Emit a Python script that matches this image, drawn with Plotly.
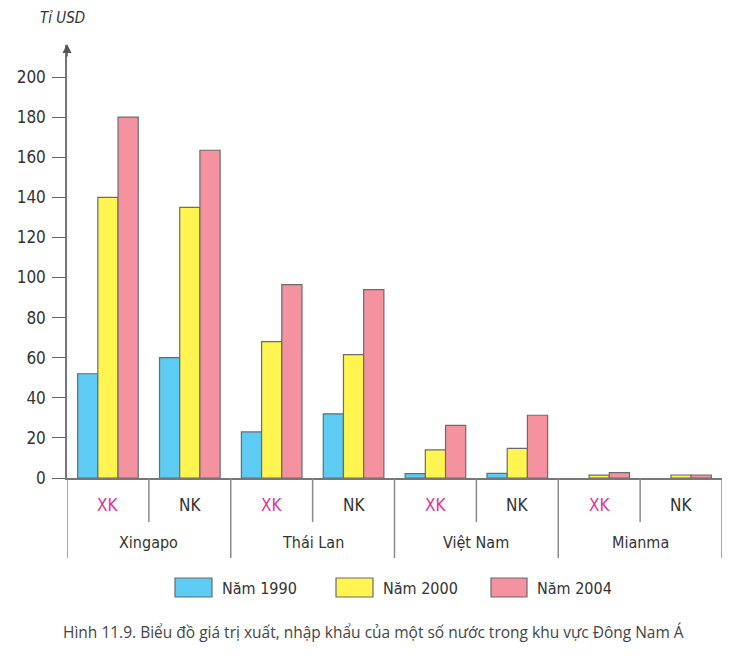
import plotly.graph_objects as go

# ---- data ----
countries = ["Xingapo", "Thái Lan", "Việt Nam", "Mianma"]
flows = ["XK", "NK"]
years = ["Năm 1990", "Năm 2000", "Năm 2004"]
v1990 = [52, 60, 23, 32, 2.2, 2.3, None, None]
v2000 = [140, 135, 68, 61.5, 14, 14.8, 1.4, 1.5]
v2004 = [180, 163.5, 96.5, 94, 26.3, 31.3, 2.7, 1.5]
y_ticks = [0, 20, 40, 60, 80, 100, 120, 140, 160, 180, 200]
title_y = "Tỉ USD"
caption = "Hình 11.9. Biểu đồ giá trị xuất, nhập khẩu của một số nước trong khu vực Đông Nam Á"

colors = ["#5ECBF2", "#FFF450", "#F592A0"]
series = [v1990, v2000, v2004]

W, H = 751, 662
ML, MR, MT, MB = 67, 29, 45, 184
PW, PH = W - ML - MR, H - MT - MB
YMAX = 216

def px(x):
    return (x - ML) / PW

def py(y):
    return (H - MB - y) / PH

FONT = "DejaVu Sans Condensed, Liberation Sans Narrow, Liberation Sans, Arial"
n_sub = len(countries) * len(flows)
xpos = list(range(n_sub))

fig = go.Figure()
for name, vals, col in zip(years, series, colors):
    fig.add_trace(go.Bar(
        x=xpos, y=vals, name=name,
        marker=dict(color=col, line=dict(color="#6b6b6b", width=1.2)),
        showlegend=False,
    ))

shapes = []
annotations = []
# separators and labels under axis
for g, c in enumerate(countries):
    for f, fl in enumerate(flows):
        i = g * len(flows) + f
        annotations.append(dict(
            x=i, y=py(505), xref="x", yref="paper", text=fl, showarrow=False,
            font=dict(family=FONT, size=17, color="#E0359C" if fl == "XK" else "#333333"),
            xanchor="center", yanchor="middle"))
    annotations.append(dict(
        x=g * 2 + 0.5, y=py(542), xref="x", yref="paper", text=c, showarrow=False,
        font=dict(family=FONT, size=16, color="#333333"), xanchor="center", yanchor="middle"))
    shapes.append(dict(type="line", xref="x", yref="paper",
                       x0=g * 2 + 0.5, x1=g * 2 + 0.5, y0=0, y1=py(522),
                       line=dict(color="#8a8a8a", width=1.5)))
for k in range(len(countries) + 1):
    xx = k * 2 - 0.5
    shapes.append(dict(type="line", xref="x", yref="paper",
                       x0=xx, x1=xx, y0=0, y1=py(558),
                       line=dict(color="#8a8a8a", width=1.5)))

# custom legend
leg_boxes = [(175, 212), (336, 373), (491, 527)]
for (x0, x1), name, col in zip(leg_boxes, years, colors):
    shapes.append(dict(type="rect", xref="paper", yref="paper",
                       x0=px(x0), x1=px(x1), y0=py(578), y1=py(597),
                       fillcolor=col, line=dict(color="#6b6b6b", width=1.2)))
    annotations.append(dict(x=px(x1 + 8), y=py(588), xref="paper", yref="paper",
                            text=name, showarrow=False, xanchor="left", yanchor="middle",
                            font=dict(family=FONT, size=16, color="#333333")))

annotations.append(dict(x=px(373), y=py(632), xref="paper", yref="paper", text=caption,
                        showarrow=False, xanchor="center", yanchor="middle",
                        font=dict(family="Open Sans, Noto Sans, sans-serif", size=15.5, color="#444444")))
annotations.append(dict(x=px(62), y=py(18), xref="paper", yref="paper", text="<i>" + title_y + "</i>",
                        showarrow=False, xanchor="center", yanchor="middle",
                        font=dict(family=FONT, size=15, color="#333333")))
# axis arrow
annotations.append(dict(x=px(ML), y=py(44), xref="paper", yref="paper", ax=0, ay=14,
                        text="", showarrow=True, arrowhead=2, arrowsize=1.2, arrowwidth=1.5,
                        arrowcolor="#555555"))

fig.update_layout(
    width=W, height=H,
    margin=dict(l=ML, r=MR, t=MT, b=MB),
    paper_bgcolor="white", plot_bgcolor="white",
    barmode="group", bargap=0.26, bargroupgap=0,
    shapes=shapes, annotations=annotations,
    showlegend=False,
)
fig.update_xaxes(range=[-0.5, n_sub - 0.5], showticklabels=False, ticks="",
                 showline=True, linecolor="#777777", linewidth=1.5, showgrid=False, zeroline=False)
fig.update_yaxes(range=[0, YMAX], tickvals=y_ticks, ticktext=[str(t) for t in y_ticks],
                 ticks="outside", ticklen=13, tickcolor="#666666", tickwidth=1.2,
                 showline=True, linecolor="#777777", linewidth=1.5, showgrid=False, zeroline=False,
                 tickfont=dict(family=FONT, size=17, color="#333333"), ticklabelstandoff=3)

fig.write_html("out.html")
